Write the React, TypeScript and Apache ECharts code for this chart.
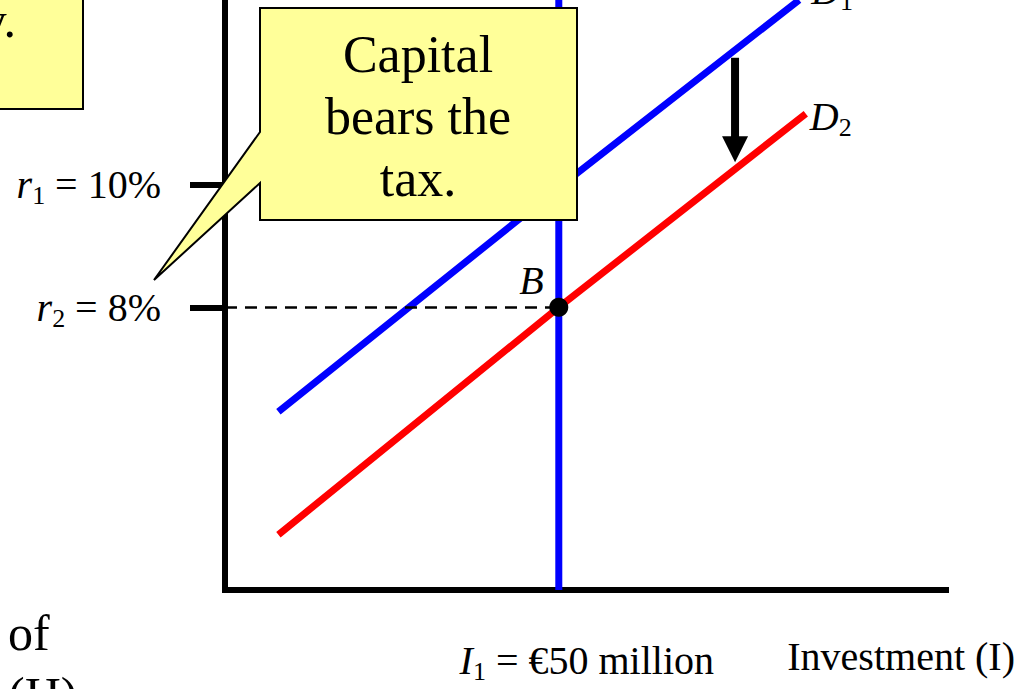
import React, { useEffect, useRef } from "react";
import * as echarts from "echarts";

// Economic units: x = investment (€ million), y = rate of return (%)
const supplyLine: [number, number][] = [[50, 3.4], [50, 13]];
const demand1: [number, number][] = [[8, 6.3], [50, 9.95], [86, 13]];
const demand2: [number, number][] = [[8, 4.3], [50, 8], [87, 11.15]];
const pointB: [number, number][] = [[50, 8]];
const shiftArrow: [number, number, number][] = [[76.4, 12.06, 10.36]];
const rateTicks = [8, 10];
const rateLabels: Record<number, string> = { 10: "{r|r}{s|1}{t| = 10%}", 8: "{r|r}{s|2}{t| = 8%}" };
const investTicks = [50];

const FONT = "'Liberation Serif', 'Times New Roman', serif";

export default function App() {
  const ref = useRef<HTMLDivElement>(null);
  useEffect(() => {
    if (!ref.current) return;
    const chart = echarts.init(ref.current, undefined, { renderer: "svg" });
    const rich = {
      r: { fontFamily: FONT, fontSize: 40, fontStyle: "italic", color: "#000" },
      s: { fontFamily: FONT, fontSize: 26, color: "#000", padding: [22, 0, 0, 0] },
      t: { fontFamily: FONT, fontSize: 40, color: "#000" },
      i: { fontFamily: FONT, fontSize: 40, fontStyle: "italic", color: "#000" },
    };
    const dRich = {
      d: { fontFamily: FONT, fontSize: 40, fontStyle: "italic", color: "#000" },
      s: { fontFamily: FONT, fontSize: 26, color: "#000", padding: [22, 0, 0, 0] },
    };
    chart.setOption({
      animation: false,
      backgroundColor: "#fff",
      grid: { left: 225, right: 78, top: 0, bottom: 99, containLabel: false, outerBoundsMode: "none" },
      xAxis: {
        type: "value",
        min: 0,
        max: 108,
        splitLine: { show: false },
        axisLine: { lineStyle: { color: "#000", width: 6, cap: "square" } },
        axisTick: { show: false },
        axisLabel: {
          customValues: investTicks,
          margin: 46,
          padding: [0, 0, 0, 56],
          formatter: () => "{i|I}{s|1}{t| = €50 million}",
          rich,
        },
        name: "Investment (I)",
        nameLocation: "end",
        nameGap: 69,
        nameTextStyle: {
          fontFamily: FONT,
          fontSize: 40,
          color: "#000",
          align: "right",
          verticalAlign: "top",
          padding: [46, 0, 0, 0],
        },
      },
      yAxis: {
        type: "value",
        min: 3.4,
        max: 13,
        splitLine: { show: false },
        axisLine: { lineStyle: { color: "#000", width: 6 } },
        axisTick: { customValues: rateTicks, length: 35, lineStyle: { color: "#000", width: 6 } },
        axisLabel: {
          customValues: rateTicks,
          margin: 64,
          formatter: (v: number) => rateLabels[v] || "",
          rich,
        },
      },
      series: [
        {
          type: "line",
          data: supplyLine,
          symbol: "none",
          lineStyle: { color: "#0000ff", width: 7 },
          z: 3,
        },
        {
          type: "line",
          data: demand1,
          symbol: "none",
          lineStyle: { color: "#0000ff", width: 7 },
          clip: false,
          endLabel: {
            show: true,
            formatter: () => "{d|D}{s|1}",
            offset: [4, -10],
            rich: dRich,
          },
          z: 2,
        },
        {
          type: "line",
          data: demand2,
          symbol: "none",
          lineStyle: { color: "#ff0000", width: 7 },
          endLabel: {
            show: true,
            formatter: () => "{d|D}{s|2}",
            offset: [-4, 3],
            rich: dRich,
          },
          markLine: {
            silent: true,
            symbol: "none",
            label: { show: false },
            lineStyle: { color: "#000", width: 2.5, type: [12, 8] },
            data: [[{ coord: [0, 8] }, { coord: [50, 8] }]],
          },
          z: 2,
        },
        {
          type: "scatter",
          data: pointB,
          symbolSize: 19,
          itemStyle: { color: "#000", opacity: 1 },
          label: {
            show: true,
            formatter: "B",
            position: [-30, -37],
            fontFamily: FONT,
            fontSize: 40,
            fontStyle: "italic",
            color: "#000",
          },
          z: 5,
        },
        {
          type: "custom",
          data: shiftArrow,
          z: 6,
          renderItem: (_p: any, api: any) => {
            const top = api.coord([api.value(0), api.value(1)]);
            const bot = api.coord([api.value(0), api.value(2)]);
            const x = top[0];
            const head = 26;
            return {
              type: "group",
              children: [
                { type: "rect", shape: { x: x - 4, y: top[1], width: 8, height: bot[1] - head - top[1] + 1 }, style: { fill: "#000" } },
                { type: "polygon", shape: { points: [[x - 13, bot[1] - head], [x + 13, bot[1] - head], [x, bot[1]]] }, style: { fill: "#000" } },
              ],
            };
          },
        },
      ],
      graphic: [
        {
          type: "rect",
          shape: { x: -10, y: -10, width: 93, height: 119 },
          style: { fill: "#ffff99", stroke: "#000", lineWidth: 2 },
          z: 10,
        },
        {
          type: "text",
          x: 16,
          y: 20,
          style: { text: "y.", font: `50px ${FONT}`, fill: "#000", align: "right", verticalAlign: "middle" },
          z: 11,
        },
        {
          type: "polygon",
          shape: { points: [[577, 8], [577, 220], [260, 220], [260, 183], [154, 280], [260, 132], [260, 8]] },
          style: { fill: "#ffff99", stroke: "#000", lineWidth: 2 },
          z: 10,
        },
        {
          type: "text",
          x: 418,
          y: 116,
          style: {
            text: "Capital\nbears the\ntax.",
            font: `52px ${FONT}`,
            lineHeight: 62,
            fill: "#000",
            align: "center",
            verticalAlign: "middle",
          },
          z: 11,
        },
        {
          type: "text",
          x: 8,
          y: 602,
          style: { text: "of\n(H)", font: `50px ${FONT}`, lineHeight: 62, fill: "#000", align: "left", verticalAlign: "top" },
          z: 11,
        },
      ],
    });
    return () => chart.dispose();
  }, []);
  return <div ref={ref} style={{ position: "fixed", left: 0, top: 0, width: 1024, height: 689 }} />;
}
